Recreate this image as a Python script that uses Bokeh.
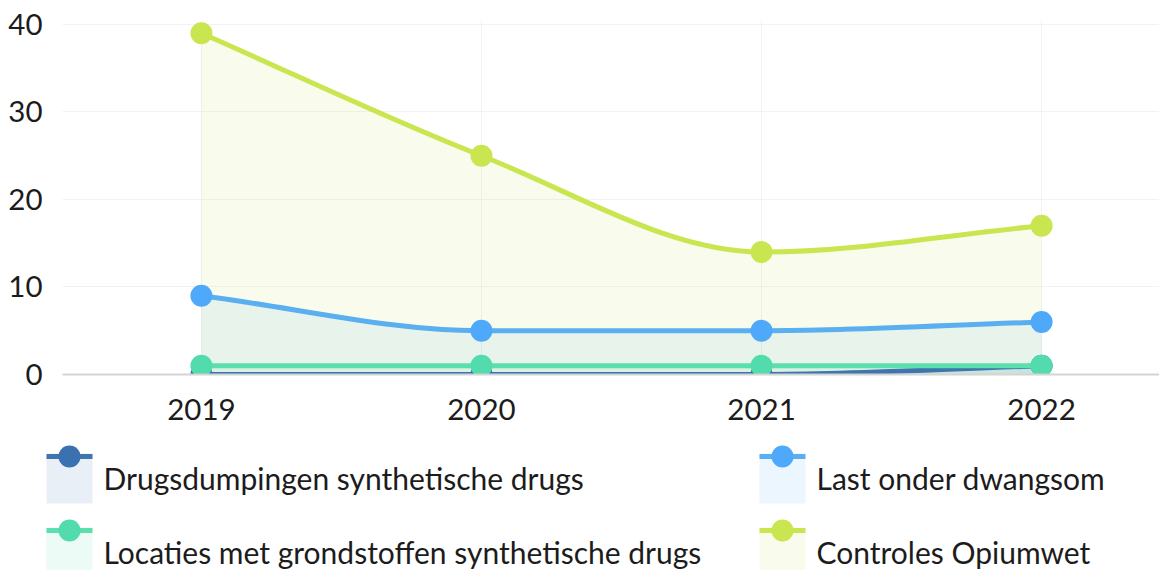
import numpy as np
from bokeh.plotting import figure
from bokeh.models import Range1d, FixedTicker
from bokeh.layouts import column
from bokeh.core.properties import value
from bokeh.embed import file_html
from bokeh.resources import INLINE

# ---- data ----
years = [2019, 2020, 2021, 2022]
year_labels = ["2019", "2020", "2021", "2022"]
series_names = [
    "Drugsdumpingen synthetische drugs",
    "Last onder dwangsom",
    "Locaties met grondstoffen synthetische drugs",
    "Controles Opiumwet",
]
drugsdumpingen = [0, 0, 0, 1]
last_onder_dwangsom = [9, 5, 5, 6]
locaties_grondstoffen = [1, 1, 1, 1]
controles_opiumwet = [39, 25, 14, 17]
series_values = [drugsdumpingen, last_onder_dwangsom, locaties_grondstoffen, controles_opiumwet]
series_colors = ["#3b71b0", "#4ea9fa", "#52dcae", "#c9e550"]
line_colors = ["#3f74ad", "#5aaff0", "#5adfaf", "#c9e550"]
y_ticks = [0, 10, 20, 30, 40]

FONT = "Lato"
TEXT_COLOR = "#1c1c1c"


def monotone_tangents(x, y):
    x = np.asarray(x, float)
    y = np.asarray(y, float)
    n = len(x)
    d = np.diff(y) / np.diff(x)
    m = np.zeros(n)
    m[0] = d[0]
    m[-1] = d[-1]
    for k in range(1, n - 1):
        if d[k - 1] * d[k] <= 0:
            m[k] = 0.0
        else:
            m[k] = (d[k - 1] + d[k]) / 2.0
    for k in range(n - 1):
        if d[k] == 0:
            m[k] = 0.0
            m[k + 1] = 0.0
            continue
        a = m[k] / d[k]
        b = m[k + 1] / d[k]
        s = a * a + b * b
        if s > 9:
            t = 3.0 / np.sqrt(s)
            m[k] = t * a * d[k]
            m[k + 1] = t * b * d[k]
    return m


def bezier_controls(x, y):
    x = np.asarray(x, float)
    y = np.asarray(y, float)
    m = monotone_tangents(x, y)
    h = np.diff(x)
    return dict(
        x0=x[:-1], y0=y[:-1], x1=x[1:], y1=y[1:],
        cx0=x[:-1] + h / 3, cy0=y[:-1] + m[:-1] * h / 3,
        cx1=x[1:] - h / 3, cy1=y[1:] - m[1:] * h / 3,
    )


def curve_outline(x, y, n=40):
    c = bezier_controls(x, y)
    xs, ys = [], []
    t = np.linspace(0, 1, n)
    for i in range(len(c["x0"])):
        p0 = np.array([c["x0"][i], c["y0"][i]])
        p1 = np.array([c["cx0"][i], c["cy0"][i]])
        p2 = np.array([c["cx1"][i], c["cy1"][i]])
        p3 = np.array([c["x1"][i], c["y1"][i]])
        pts = ((1 - t) ** 3)[:, None] * p0 + (3 * (1 - t) ** 2 * t)[:, None] * p1 \
            + (3 * (1 - t) * t ** 2)[:, None] * p2 + (t ** 3)[:, None] * p3
        if i > 0:
            pts = pts[1:]
        xs.extend(pts[:, 0])
        ys.extend(pts[:, 1])
    return np.array(xs), np.array(ys)


# ---- main chart ----
p = figure(
    width=1159, height=440,
    x_range=Range1d(2018.504, 2022.421),
    y_range=Range1d(0, 40.457),
    min_border_left=62, min_border_right=0, min_border_top=20, min_border_bottom=66,
    output_backend="svg", toolbar_location=None,
)
p.outline_line_color = None
p.background_fill_color = "white"
p.frame_align = False

p.xaxis.ticker = FixedTicker(ticks=years)
p.xaxis.major_label_overrides = {y: s for y, s in zip(years, year_labels)}
p.yaxis.ticker = FixedTicker(ticks=y_ticks)
for ax in (p.xaxis[0], p.yaxis[0]):
    ax.major_tick_line_color = None
    ax.minor_tick_line_color = None
    ax.major_tick_out = 0
    ax.major_tick_in = 0
    ax.major_label_text_font = FONT
    ax.major_label_text_font_size = "29.5px"
    ax.major_label_text_color = TEXT_COLOR
p.yaxis.axis_line_color = None
p.yaxis.major_label_standoff = 20
p.xaxis.axis_line_color = "#d4d4d4"
p.xaxis.axis_line_width = 2
p.xaxis.major_label_standoff = 24

p.ygrid.grid_line_color = "#f2f2f2"
p.xgrid.grid_line_color = "#f2f2f2"
p.ygrid.ticker = FixedTicker(ticks=y_ticks)
p.xgrid.ticker = FixedTicker(ticks=years)

for vals, col in zip(series_values, series_colors):
    cx, cy = curve_outline(years, vals)
    p.varea(x=cx, y1=np.zeros_like(cy), y2=cy, fill_color=col, fill_alpha=0.11)

for vals, col, lcol in zip(series_values, series_colors, line_colors):
    c = bezier_controls(years, vals)
    p.bezier(line_color=lcol, line_width=5, line_cap="round", **c)
    p.scatter(x=years, y=vals, size=22, fill_color=col, line_color=col, line_width=0)

# ---- legend ----
LG_H = 130
lg = figure(
    width=1159, height=LG_H,
    x_range=Range1d(0, 1159), y_range=Range1d(LG_H, 0),
    min_border=0, min_border_left=0, min_border_right=0, min_border_top=0, min_border_bottom=0,
    output_backend="svg", toolbar_location=None,
)
lg.frame_align = False
lg.outline_line_color = None
lg.xaxis.visible = False
lg.yaxis.visible = False
lg.xgrid.visible = False
lg.ygrid.visible = False

col_left = [46, 759]
row_line = [16, 90]
glyph_w = 46
for i, (name, col, lcol) in enumerate(zip(series_names, series_colors, line_colors)):
    cl = col_left[i % 2]
    ry = row_line[i // 2]
    lg.quad(left=[cl], right=[cl + glyph_w], top=[ry - 3], bottom=[ry + 47],
            fill_color=col, fill_alpha=0.11, line_color=None)
    lg.segment(x0=[cl], y0=[ry], x1=[cl + glyph_w], y1=[ry], line_color=lcol, line_width=5)
    lg.scatter(x=[cl + glyph_w / 2], y=[ry], size=22, fill_color=col, line_color=col, line_width=0)
    lg.text(x=[cl + glyph_w + 11], y=[ry + 21], text=[name], text_font=value(FONT),
            text_font_size="30px", text_color=TEXT_COLOR, text_baseline="middle", text_align="left")

layout = column(p, lg, spacing=0)
open("out.html", "w").write(file_html(layout, INLINE))
